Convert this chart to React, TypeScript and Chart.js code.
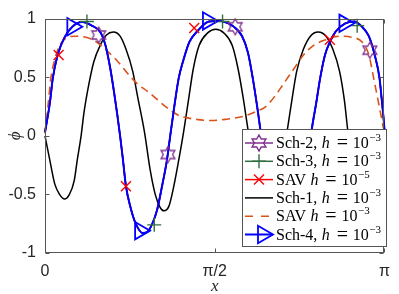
import React, { useEffect, useRef } from 'react';
import { Chart, registerables } from 'chart.js';

Chart.register(...registerables);

// ---- curve data (x in radians, y = phi) ----
// Sch-4 (Sch-2, Sch-3 and SAV h=1e-5 lie on top of it)
const fineX = [0, 0.045, 0.072, 0.117, 0.181, 0.253, 0.343, 0.433, 0.515, 0.560, 0.605, 0.641, 0.695, 0.722, 0.749, 0.794, 0.840, 0.903, 0.948, 0.993, 1.038, 1.083, 1.128, 1.156, 1.192, 1.237, 1.282, 1.336, 1.417, 1.517, 1.607, 1.733, 1.824, 1.878, 1.923, 1.968, 2.004, 2.031, 2.058, 2.103, 2.149, 2.212, 2.257, 2.302, 2.347, 2.392, 2.437, 2.465, 2.510, 2.546, 2.591, 2.636, 2.690, 2.780, 2.862, 2.934, 2.997, 3.051, 3.096, 3.114, 3.133, 3.1416];
const fineY = [0.03, 0.28, 0.49, 0.69, 0.84, 0.93, 0.97, 0.94, 0.88, 0.77, 0.57, 0.36, 0.0, -0.21, -0.43, -0.62, -0.75, -0.83, -0.82, -0.75, -0.63, -0.43, -0.21, -0.02, 0.22, 0.49, 0.65, 0.80, 0.90, 0.975, 0.98, 0.94, 0.85, 0.71, 0.49, 0.22, -0.02, -0.21, -0.43, -0.62, -0.75, -0.83, -0.82, -0.75, -0.62, -0.43, -0.21, 0.03, 0.28, 0.49, 0.69, 0.80, 0.89, 0.96, 0.975, 0.93, 0.85, 0.69, 0.49, 0.33, 0.15, 0.05];

// Sch-1
const sch1X = [0, 0.045, 0.090, 0.135, 0.181, 0.226, 0.271, 0.298, 0.334, 0.361, 0.406, 0.451, 0.515, 0.569, 0.632, 0.695, 0.749, 0.812, 0.858, 0.921, 0.975, 1.020, 1.065, 1.101, 1.147, 1.192, 1.237, 1.282, 1.327, 1.372, 1.426, 1.508, 1.580, 1.652, 1.733, 1.787, 1.833, 1.869, 1.887, 1.923, 1.968, 2.013, 2.058, 2.103, 2.149, 2.194, 2.239, 2.284, 2.329, 2.392, 2.456, 2.528, 2.600, 2.663, 2.726, 2.771, 2.808, 2.853, 2.898, 2.943, 2.988, 3.024, 3.060, 3.096, 3.1416];
const sch1Y = [0.0, -0.21, -0.41, -0.50, -0.54, -0.50, -0.38, -0.21, 0.0, 0.20, 0.44, 0.63, 0.78, 0.86, 0.885, 0.85, 0.74, 0.55, 0.33, 0.03, -0.30, -0.50, -0.61, -0.64, -0.60, -0.43, -0.21, 0.03, 0.30, 0.57, 0.77, 0.88, 0.91, 0.88, 0.77, 0.57, 0.33, 0.11, 0.0, -0.21, -0.45, -0.60, -0.64, -0.60, -0.45, -0.21, 0.03, 0.30, 0.55, 0.74, 0.85, 0.885, 0.85, 0.74, 0.55, 0.30, 0.0, -0.21, -0.41, -0.50, -0.54, -0.51, -0.40, -0.22, 0.0];

// SAV h = 1e-3
const savCoarseX = [0, 0.027, 0.054, 0.090, 0.135, 0.208, 0.289, 0.379, 0.478, 0.569, 0.677, 0.767, 0.858, 0.948, 1.038, 1.101, 1.174, 1.246, 1.309, 1.399, 1.535, 1.670, 1.851, 1.986, 2.031, 2.121, 2.212, 2.302, 2.392, 2.483, 2.600, 2.726, 2.844, 2.934, 2.997, 3.042, 3.087, 3.1416];
const savCoarseY = [0.02, 0.25, 0.49, 0.65, 0.77, 0.84, 0.85, 0.84, 0.80, 0.73, 0.63, 0.53, 0.44, 0.38, 0.31, 0.26, 0.21, 0.17, 0.155, 0.14, 0.13, 0.14, 0.17, 0.22, 0.24, 0.33, 0.45, 0.57, 0.69, 0.77, 0.82, 0.85, 0.84, 0.80, 0.69, 0.49, 0.28, 0.02];

// markers
const sch2MarkX = [0.4965, 1.1375, 1.7604, 2.3833, 3.0062];
const sch2MarkY = [0.86, -0.16, 0.93, -0.45, 0.73];
const sch3MarkX = [0.388, 1.011, 1.643, 2.266, 2.889];
const sch3MarkY = [0.975, -0.76, 0.975, -0.82, 0.94];
const savFineMarkX = [0.126, 0.749, 1.381, 2.013, 2.636];
const savFineMarkY = [0.69, -0.43, 0.92, -0.03, 0.82];
const sch4MarkX = [0.253, 0.880, 1.508, 2.140, 2.771];
const sch4MarkY = [0.93, -0.81, 0.98, -0.77, 0.96];

// ticks
const xTickValues = [0, Math.PI / 2, Math.PI];
const xTickLabels = ['0', 'π/2', 'π'];
const yTickValues = [-1, -0.5, 0, 0.5, 1];
const yTickLabels = ['-1', '-0.5', '0', '0.5', '1'];

// legend
const legendNames = ['Sch-2,', 'Sch-3,', 'SAV', 'Sch-1,', 'SAV', 'Sch-4,'];
const legendExps = ['\u22123', '\u22123', '\u22125', '\u22123', '\u22123', '\u22123'];

const BLUE = '#0000ff';
const RED = '#ff0000';
const GREEN = '#2f6f41';
const PURPLE = '#7e2f8e';
const ORANGE = '#d95319';
const BLACK = '#000000';
const AXIS = '#262626';

const pts = (xs: number[], ys: number[]) => xs.map((x, i) => ({ x, y: ys[i] }));

function hexagramPath(ctx: CanvasRenderingContext2D, cx: number, cy: number, R: number) {
  const r = R / Math.sqrt(3);
  ctx.beginPath();
  for (let k = 0; k < 12; k++) {
    const a = -Math.PI / 2 + (k * Math.PI) / 6;
    const rr = k % 2 === 0 ? R : r;
    const px = cx + rr * Math.cos(a);
    const py = cy + rr * Math.sin(a);
    if (k === 0) ctx.moveTo(px, py);
    else ctx.lineTo(px, py);
  }
  ctx.closePath();
}

function makeHexagram(): HTMLCanvasElement {
  const c = document.createElement('canvas');
  c.width = 20;
  c.height = 20;
  const ctx = c.getContext('2d')!;
  ctx.strokeStyle = PURPLE;
  ctx.lineWidth = 1.3;
  hexagramPath(ctx, 10, 10, 8);
  ctx.stroke();
  return c;
}

function drawMarker(ctx: CanvasRenderingContext2D, kind: string, cx: number, cy: number, color: string) {
  ctx.save();
  ctx.strokeStyle = color;
  ctx.lineWidth = kind === 'tri' ? 1.8 : 1.4;
  ctx.setLineDash([]);
  if (kind === 'hex') {
    hexagramPath(ctx, cx, cy, 8);
    ctx.stroke();
  } else if (kind === 'plus') {
    ctx.beginPath();
    ctx.moveTo(cx - 7, cy);
    ctx.lineTo(cx + 7, cy);
    ctx.moveTo(cx, cy - 7);
    ctx.lineTo(cx, cy + 7);
    ctx.stroke();
  } else if (kind === 'x') {
    ctx.beginPath();
    ctx.moveTo(cx - 5, cy - 5);
    ctx.lineTo(cx + 5, cy + 5);
    ctx.moveTo(cx - 5, cy + 5);
    ctx.lineTo(cx + 5, cy - 5);
    ctx.stroke();
  } else if (kind === 'tri') {
    const r = 10;
    ctx.beginPath();
    ctx.moveTo(cx + r, cy);
    ctx.lineTo(cx - r / 2, cy - (r * Math.sqrt(3)) / 2);
    ctx.lineTo(cx - r / 2, cy + (r * Math.sqrt(3)) / 2);
    ctx.closePath();
    ctx.stroke();
  }
  ctx.restore();
}

const framePlugin = {
  id: 'frame',
  afterDatasetsDraw(chart: any) {
    const { ctx, chartArea: a, scales } = chart;
    ctx.save();
    ctx.strokeStyle = '#555';
    ctx.lineWidth = 1;
    const L = Math.round(a.left) + 0.5;
    const R = Math.round(a.right) - 0.5;
    const T = Math.round(a.top) + 0.5;
    const B = Math.round(a.bottom) - 0.5;
    ctx.strokeRect(L, T, R - L, B - T);
    const tl = 4;
    ctx.beginPath();
    yTickValues.forEach((v) => {
      const y = Math.round(scales.y.getPixelForValue(v)) + 0.5;
      ctx.moveTo(L, y);
      ctx.lineTo(L + tl, y);
      ctx.moveTo(R, y);
      ctx.lineTo(R - tl, y);
    });
    xTickValues.forEach((v) => {
      const x = Math.round(scales.x.getPixelForValue(v)) + 0.5;
      ctx.moveTo(x, B);
      ctx.lineTo(x, B - tl);
      ctx.moveTo(x, T);
      ctx.lineTo(x, T + tl);
    });
    ctx.stroke();
    ctx.restore();
  },
};

const legendPlugin = {
  id: 'customLegend',
  afterDraw(chart: any) {
    const { ctx } = chart;
    const bx = 242.5, by = 129.5, bw = 144, bh = 117;
    ctx.save();
    ctx.fillStyle = '#ffffff';
    ctx.fillRect(bx, by, bw, bh);
    ctx.strokeStyle = '#555';
    ctx.lineWidth = 1;
    ctx.strokeRect(bx, by, bw, bh);

    const styles = [
      { color: PURPLE, marker: 'hex', dash: [] as number[], width: 1.5 },
      { color: GREEN, marker: 'plus', dash: [], width: 1.5 },
      { color: RED, marker: 'x', dash: [], width: 1.5 },
      { color: BLACK, marker: '', dash: [], width: 1.5 },
      { color: ORANGE, marker: '', dash: [8, 8], width: 1.5 },
      { color: BLUE, marker: 'tri', dash: [], width: 2 },
    ];
    const serif = '"Liberation Serif", "Times New Roman", serif';
    legendNames.forEach((name, i) => {
      const cy = 143 + i * 18.3;
      const st = styles[i];
      ctx.save();
      ctx.strokeStyle = st.color;
      ctx.lineWidth = st.width;
      ctx.setLineDash(st.dash);
      ctx.beginPath();
      ctx.moveTo(245, cy);
      ctx.lineTo(273, cy);
      ctx.stroke();
      ctx.restore();
      if (st.marker) drawMarker(ctx, st.marker, st.marker === 'tri' ? 263 : 259, cy, st.color);

      const base = cy + 5;
      ctx.fillStyle = '#000';
      ctx.textBaseline = 'alphabetic';
      ctx.textAlign = 'left';
      ctx.font = `16px ${serif}`;
      const x0 = 276;
      ctx.fillText(name, x0, base);
      const hx = x0 + ctx.measureText(name).width + 4.5;
      ctx.font = `italic 16px ${serif}`;
      ctx.fillText('h', hx, base);
      ctx.font = `20px ${serif}`;
      ctx.textAlign = 'center';
      ctx.fillText('=', hx + 20.5, base + 1);
      ctx.textAlign = 'left';
      ctx.font = `16px ${serif}`;
      ctx.fillText('10', hx + 31, base);
      ctx.font = `11px ${serif}`;
      ctx.fillText(legendExps[i], hx + 47.5, base - 7);
    });
    ctx.restore();
  },
};

export default function App() {
  const ref = useRef<HTMLCanvasElement | null>(null);

  useEffect(() => {
    if (!ref.current) return;
    const hex = makeHexagram();
    const tickFont = { family: '"Liberation Sans", Arial, Helvetica, sans-serif', size: 16 };
    const lineDs = (label: string, xs: number[], ys: number[], color: string, width: number, order: number, dash: number[] = []) => ({
      label,
      data: pts(xs, ys),
      borderColor: color,
      backgroundColor: color,
      borderWidth: width,
      borderDash: dash,
      pointRadius: 0,
      fill: false,
      cubicInterpolationMode: 'monotone' as const,
      clip: false as any,
      order,
    });
    const markDs = (label: string, xs: number[], ys: number[], color: string, style: any, radius: number, rotation = 0) => ({
      label,
      data: pts(xs, ys),
      showLine: false,
      borderColor: color,
      backgroundColor: 'rgba(0,0,0,0)',
      pointStyle: style,
      pointRadius: radius,
      pointBorderWidth: style === 'triangle' ? 1.8 : 1.4,
      pointBorderColor: color,
      pointBackgroundColor: 'rgba(0,0,0,0)',
      pointRotation: rotation,
      clip: false as any,
      order: 0,
    });

    const chart = new Chart(ref.current, {
      type: 'line',
      data: {
        datasets: [
          markDs('Sch-4 markers', sch4MarkX, sch4MarkY, BLUE, 'triangle', 10, 90),
          markDs('Sch-3 markers', sch3MarkX, sch3MarkY, GREEN, 'cross', 7),
          markDs('Sch-2 markers', sch2MarkX, sch2MarkY, PURPLE, hex, 8),
          markDs('SAV fine markers', savFineMarkX, savFineMarkY, RED, 'crossRot', 7),
          lineDs('Sch-4', fineX, fineY, BLUE, 2, 1),
          lineDs('SAV h=1e-3', savCoarseX, savCoarseY, ORANGE, 1.6, 2, [8, 5]),
          lineDs('Sch-1', sch1X, sch1Y, BLACK, 1.5, 3),
          lineDs('SAV h=1e-5', fineX, fineY, RED, 1.5, 4),
          lineDs('Sch-3', fineX, fineY, GREEN, 1.5, 5),
          lineDs('Sch-2', fineX, fineY, PURPLE, 1.5, 6),
        ] as any,
      },
      options: {
        responsive: false,
        animation: false,
        devicePixelRatio: 1,
        layout: { padding: { left: 0, top: 10, right: 6, bottom: 0 } },
        plugins: { legend: { display: false }, tooltip: { enabled: false } },
        scales: {
          x: {
            type: 'linear',
            min: 0,
            max: Math.PI,
            grid: { display: false, drawTicks: false },
            border: { display: false },
            afterBuildTicks: (s: any) => {
              s.ticks = xTickValues.map((v) => ({ value: v }));
            },
            afterFit: (s: any) => {
              s.height = 41;
            },
            ticks: {
              autoSkip: false,
              maxRotation: 0,
              minRotation: 0,
              padding: 9,
              color: AXIS,
              font: tickFont,
              callback: (v: any) => xTickLabels[xTickValues.indexOf(Number(v))] ?? '',
            },
            title: {
              display: true,
              text: 'x',
              color: AXIS,
              font: { family: '"Liberation Serif", "Times New Roman", serif', size: 17, style: 'italic', lineHeight: 0.9 },
              padding: { top: 0, bottom: 0 },
            },
          },
          y: {
            type: 'linear',
            min: -1,
            max: 1,
            grid: { display: false, drawTicks: false },
            border: { display: false },
            afterBuildTicks: (s: any) => {
              s.ticks = yTickValues.map((v) => ({ value: v }));
            },
            afterFit: (s: any) => {
              s.width = 45;
            },
            ticks: {
              autoSkip: false,
              padding: 9,
              color: AXIS,
              font: tickFont,
              callback: (v: any) => yTickLabels[yTickValues.indexOf(Number(v))] ?? '',
            },
            title: {
              display: true,
              text: 'ϕ',
              color: AXIS,
              font: { family: '"Liberation Serif", "Times New Roman", serif', size: 17, style: 'italic' },
              padding: { top: 5, bottom: 0 },
            },
          },
        },
      } as any,
      plugins: [framePlugin, legendPlugin],
    });
    return () => chart.destroy();
  }, []);

  return (
    <div style={{ position: 'absolute', left: 0, top: 0, width: 399, height: 294, background: '#fff' }}>
      <canvas ref={ref} width={399} height={294} style={{ display: 'block', width: 399, height: 294 }} />
    </div>
  );
}
